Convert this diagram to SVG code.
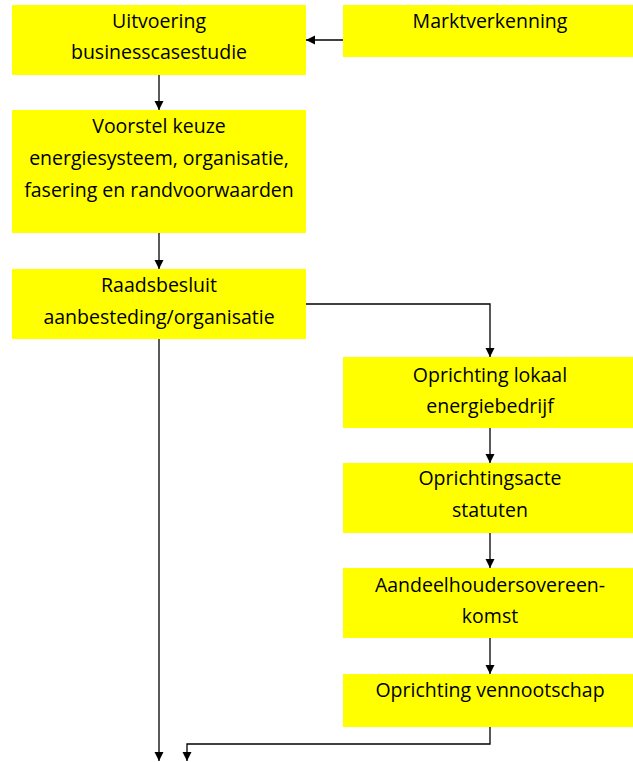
<svg xmlns="http://www.w3.org/2000/svg" width="633" height="762" viewBox="0 0 633 762">
<style>
.box{fill:#FFFF00;stroke:none}
.t{font-family:"Open Sans","Liberation Sans",sans-serif;font-size:19.5px;fill:#000;text-anchor:middle}
.c{fill:none;stroke:#000;stroke-width:1.3;marker-end:url(#ah)}
</style>
<defs>
<marker id="ah" markerUnits="userSpaceOnUse" markerWidth="9" markerHeight="10" refX="9" refY="4.5" orient="auto">
<path d="M0,0 L9,4.5 L0,9 z" fill="#000"/>
</marker>
</defs>
<rect width="633" height="762" fill="#fff"/>
<g id="n1"><rect class="box" x="12" y="5" width="294" height="70"/><text class="t" x="159" y="28">Uitvoering</text><text class="t" x="159" y="59">businesscasestudie</text></g>
<g id="n2"><rect class="box" x="343" y="5" width="290" height="52"/><text class="t" x="490" y="28">Marktverkenning</text></g>
<g id="n3"><rect class="box" x="12" y="110" width="294" height="123"/><text class="t" x="159" y="133">Voorstel keuze</text><text class="t" x="159" y="165">energiesysteem, organisatie,</text><text class="t" x="159" y="197">fasering en randvoorwaarden</text></g>
<g id="n4"><rect class="box" x="12" y="269" width="294" height="70"/><text class="t" x="159" y="292">Raadsbesluit</text><text class="t" x="159" y="324">aanbesteding/organisatie</text></g>
<g id="n5"><rect class="box" x="343" y="357" width="290" height="71"/><text class="t" x="490" y="382">Oprichting lokaal</text><text class="t" x="490" y="413">energiebedrijf</text></g>
<g id="n6"><rect class="box" x="343" y="463" width="290" height="70"/><text class="t" x="490" y="485">Oprichtingsacte</text><text class="t" x="490" y="517">statuten</text></g>
<g id="n7"><rect class="box" x="343" y="568" width="290" height="70"/><text class="t" x="490" y="592">Aandeelhoudersovereen-</text><text class="t" x="490" y="623">komst</text></g>
<g id="n8"><rect class="box" x="343" y="674" width="290" height="53"/><text class="t" x="490" y="697">Oprichting vennootschap</text></g>
<g id="connectors">
<path class="c" d="M343,40 L306,40"/>
<path class="c" d="M159,75 L159,110"/>
<path class="c" d="M159,233 L159,269"/>
<path class="c" d="M306,304 L490,304 L490,357"/>
<path class="c" d="M159,339 L159,761"/>
<path class="c" d="M490,428 L490,463"/>
<path class="c" d="M490,533 L490,568"/>
<path class="c" d="M490,638 L490,674"/>
<path class="c" d="M490,727 L490,744 L187,744 L187,761"/>
</g>
</svg>
